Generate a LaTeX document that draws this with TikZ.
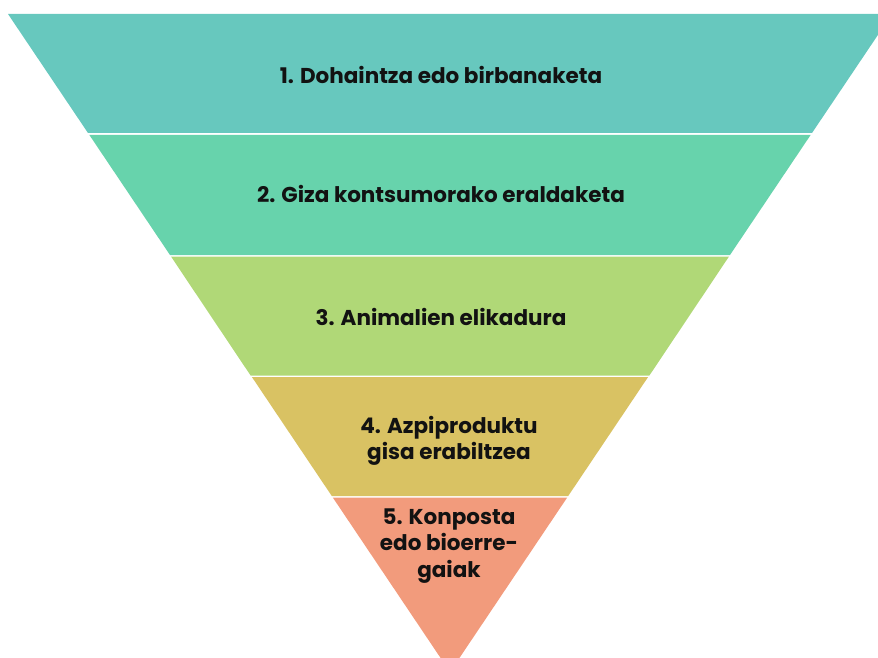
\documentclass[tikz,border=0pt]{standalone}
\usepackage{fontspec}
\setmainfont{Poppins}
\usepackage{xcolor}
\usetikzlibrary{calc}
\definecolor{bandA}{HTML}{67C8BE}
\definecolor{bandB}{HTML}{67D3AC}
\definecolor{bandC}{HTML}{B0D877}
\definecolor{bandD}{HTML}{D9C263}
\definecolor{bandE}{HTML}{F29B7C}
\tikzset{
  level/.style={
    draw=none,
    fill=#1
  },
  levellabel/.style={
    align=center,
    text=black!93,
    font=\fontsize{21.5}{26.5}\selectfont\bfseries,
    inner sep=0pt
  }
}

\begin{document}
\begin{tikzpicture}[x=1pt,y=1pt]
    \useasboundingbox (0,0) rectangle (878,-658);
    % bands of the inverted pyramid
    \fill[level=bandA] (8,-14) -- (892,-14) -- (812,-133) -- (88,-133) -- cycle;
    \fill[level=bandB] (89.4,-135) -- (810.6,-135) -- (730,-255) -- (170,-255) -- cycle;
    \fill[level=bandC] (171,-256.5) -- (729,-256.5) -- (649.4,-375.5) -- (250.6,-375.5) -- cycle;
    \fill[level=bandD] (251.9,-377) -- (648.1,-377) -- (568.2,-496) -- (331.8,-496) -- cycle;
    \fill[level=bandE] (332.8,-497.5) -- (567.2,-497.5) -- (450,-672) -- cycle;
    % labels
    \node[levellabel] (donation) at (441,-75) {1. Dohaintza edo birbanaketa};
    \node[levellabel] (human) at (441,-194) {2. Giza kontsumorako eraldaketa};
    \node[levellabel] (animal) at (441,-317) {3. Animalien elikadura};
    \node[levellabel] (byproduct) at (449,-441) {4. Azpiproduktu\\gisa erabiltzea};
    \node[levellabel] (compost) at (449,-546) {5. Konposta\\edo bioerre-\\gaiak};
\end{tikzpicture}
\end{document}
